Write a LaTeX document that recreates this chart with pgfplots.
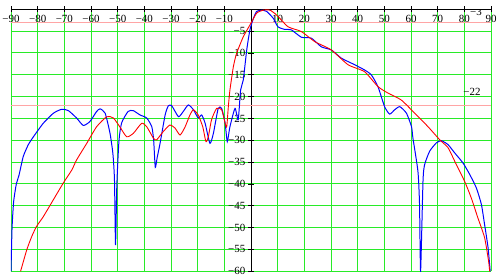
\documentclass[border=0pt]{standalone}
\usepackage{fontspec}
\setmainfont{Liberation Serif}
\usepackage{pgfplots}
\pgfplotsset{compat=1.18}
\definecolor{gridgreen}{RGB}{40,235,40}
\definecolor{refpink}{RGB}{255,165,165}
\begin{document}
\begin{tikzpicture}
\begin{axis}[
  scale only axis, width=480bp, height=262bp,
  xmin=-90, xmax=90, ymin=-60, ymax=0,
  axis lines=middle,
  axis line style={-, black, line width=0.9pt},
  xtick={-90,-80,...,90},
  xticklabels={−90,−80,−70,−60,−50,−40,−30,−20,−10,0,10,20,30,40,50,60,70,80,90},
  ytick={-60,-55,...,-5},
  yticklabels={−60,−55,−50,−45,−40,−35,−30,−25,−20,−15,−10,−5},
  tick align=center, major tick length=6bp,
  tick style={black, line width=0.8pt},
  xticklabel style={anchor=north, yshift=-0.5bp, inner sep=2pt, font=\fontsize{11}{13}\selectfont},
  yticklabel style={anchor=east, xshift=-0.5bp, inner sep=2pt, font=\fontsize{11}{13}\selectfont},
  grid=major,
  major grid style={gridgreen, line width=1pt},
]
\coordinate (TL) at (axis cs:-90,0);
\coordinate (BR) at (axis cs:90,-60);
\addplot[refpink, line width=0.7pt] coordinates {(-90,-3) (90,-3)};
\addplot[refpink, line width=0.7pt] coordinates {(-90,-22) (90,-22)};
\addplot[blue, line width=1pt, smooth, tension=0.35] coordinates {
(-90,-60) (-89.6,-50) (-89,-44) (-88,-40) (-87,-38) (-85.4,-33.7) (-83.5,-31) (-81.6,-29.2)
(-77.9,-26.1) (-74.1,-23.8) (-71,-22.9) (-68.5,-23.2) (-65.4,-24.9) (-62.9,-26.6) (-60.4,-25.7)
(-57.9,-23.4) (-56.6,-22.8) (-54.7,-23.8) (-52.9,-28.3) (-51.8,-33) (-51.2,-39) (-50.8,-54)
(-50.3,-40) (-49.5,-30) (-48.5,-26) (-46.1,-23.4) (-44.2,-23.2) (-41.6,-24.2) (-39.1,-24.9)
(-37.2,-26.9) (-36.5,-30) (-35.9,-36.2) (-35.2,-34) (-34.1,-30.7) (-32.2,-24.2) (-31,-22.1)
(-29.7,-22.1) (-27.2,-24.6) (-25.4,-23.4) (-23.5,-21.9) (-21.6,-23) (-19.8,-24.9) (-18.5,-24.2)
(-17.2,-26.1) (-15.4,-30.7) (-14.1,-28.4) (-12.3,-22.7) (-11,-22.7) (-9.7,-26.1) (-8.9,-30.3)
(-7.9,-26.9) (-6,-22.7) (-4.8,-25.3) (-3.9,-18.5) (-2.9,-16.2) (-1.6,-9.3) (-0.4,-4.7)
(0.9,-2.1) (2.1,-0.5) (4,-0.2) (5.9,-0.5) (8.4,-2.1) (10.1,-4) (12.6,-4.6) (15.1,-4.7)
(18.9,-6.4) (22.6,-6.6) (26.4,-8.6) (30.1,-9.3) (33.9,-11.2) (38.9,-12.7) (42.6,-13.9)
(45.1,-15) (47.6,-17.7) (50.1,-22.3) (52,-24) (53.9,-23) (55.8,-22.3) (58.3,-23.8)
(60.2,-26.9) (60.7,-29.4) (62.6,-37.1) (63.2,-44.7) (63.6,-60) (64.5,-39.4) (65.1,-35.6)
(67,-32.5) (69.5,-30.6) (71.4,-30.1) (73.9,-31) (76.4,-32.9) (79.5,-35.2) (82,-37.8)
(84.5,-40.9) (86.4,-44.7) (87.6,-49.3) (88.9,-54.6) (89.7,-60)
};
\addplot[red, line width=0.9pt, smooth, tension=0.35] coordinates {
(-86.4,-60) (-84.1,-55.1) (-82.2,-52) (-80.4,-49.7) (-77.9,-47.5) (-74.1,-43.6) (-70.4,-39.8)
(-67.2,-36.8) (-65.4,-34.5) (-61.6,-30.7) (-57.9,-26.9) (-54.1,-24.6) (-51.6,-24.9) (-49.1,-27)
(-46.6,-29.2) (-44.1,-28.4) (-41,-26.1) (-39.1,-26.9) (-36.6,-29.5) (-35.4,-29.9) (-32.9,-28)
(-30.4,-26.5) (-28.5,-27.2) (-26.6,-28.8) (-24.7,-26.9) (-22.9,-24.2) (-21.6,-23) (-19.8,-24.2)
(-18.1,-26.9) (-16.9,-30.3) (-16,-29.2) (-14.8,-25.3) (-12.9,-22.7) (-11,-23) (-9.7,-26.1)
(-9.1,-26.9) (-8.5,-22.3) (-7.9,-18.5) (-6.6,-13.1) (-5.4,-10.1) (-2.9,-6.3) (-0.4,-3.6)
(2.1,-0.9) (4.6,-0.2) (7.1,-0.2) (9.6,-1.3) (13.9,-4) (18.9,-5.1) (23.9,-7.4) (30.1,-9.3)
(36.4,-12.7) (42.6,-14.3) (47.6,-17.7) (51.4,-19.2) (56.4,-20.8) (61.4,-23.8) (66.4,-26.9)
(70.8,-29.9) (73.9,-31.7) (76.4,-34.8) (80.1,-39.4) (82.6,-43.2) (85.1,-47.8) (87.6,-52.3)
(89.1,-57.7) (89.5,-60)
};
\node[font=\fontsize{11}{13}\selectfont] at (axis cs:84.4,-0.6) {−3};
\node[font=\fontsize{11}{13}\selectfont] at (axis cs:82.9,-19) {−22};
\end{axis}
\pgfresetboundingbox
\path ([shift={(-11bp,9.3bp)}]TL) rectangle ([shift={(6bp,-4.7bp)}]BR);
\end{tikzpicture}
\end{document}
